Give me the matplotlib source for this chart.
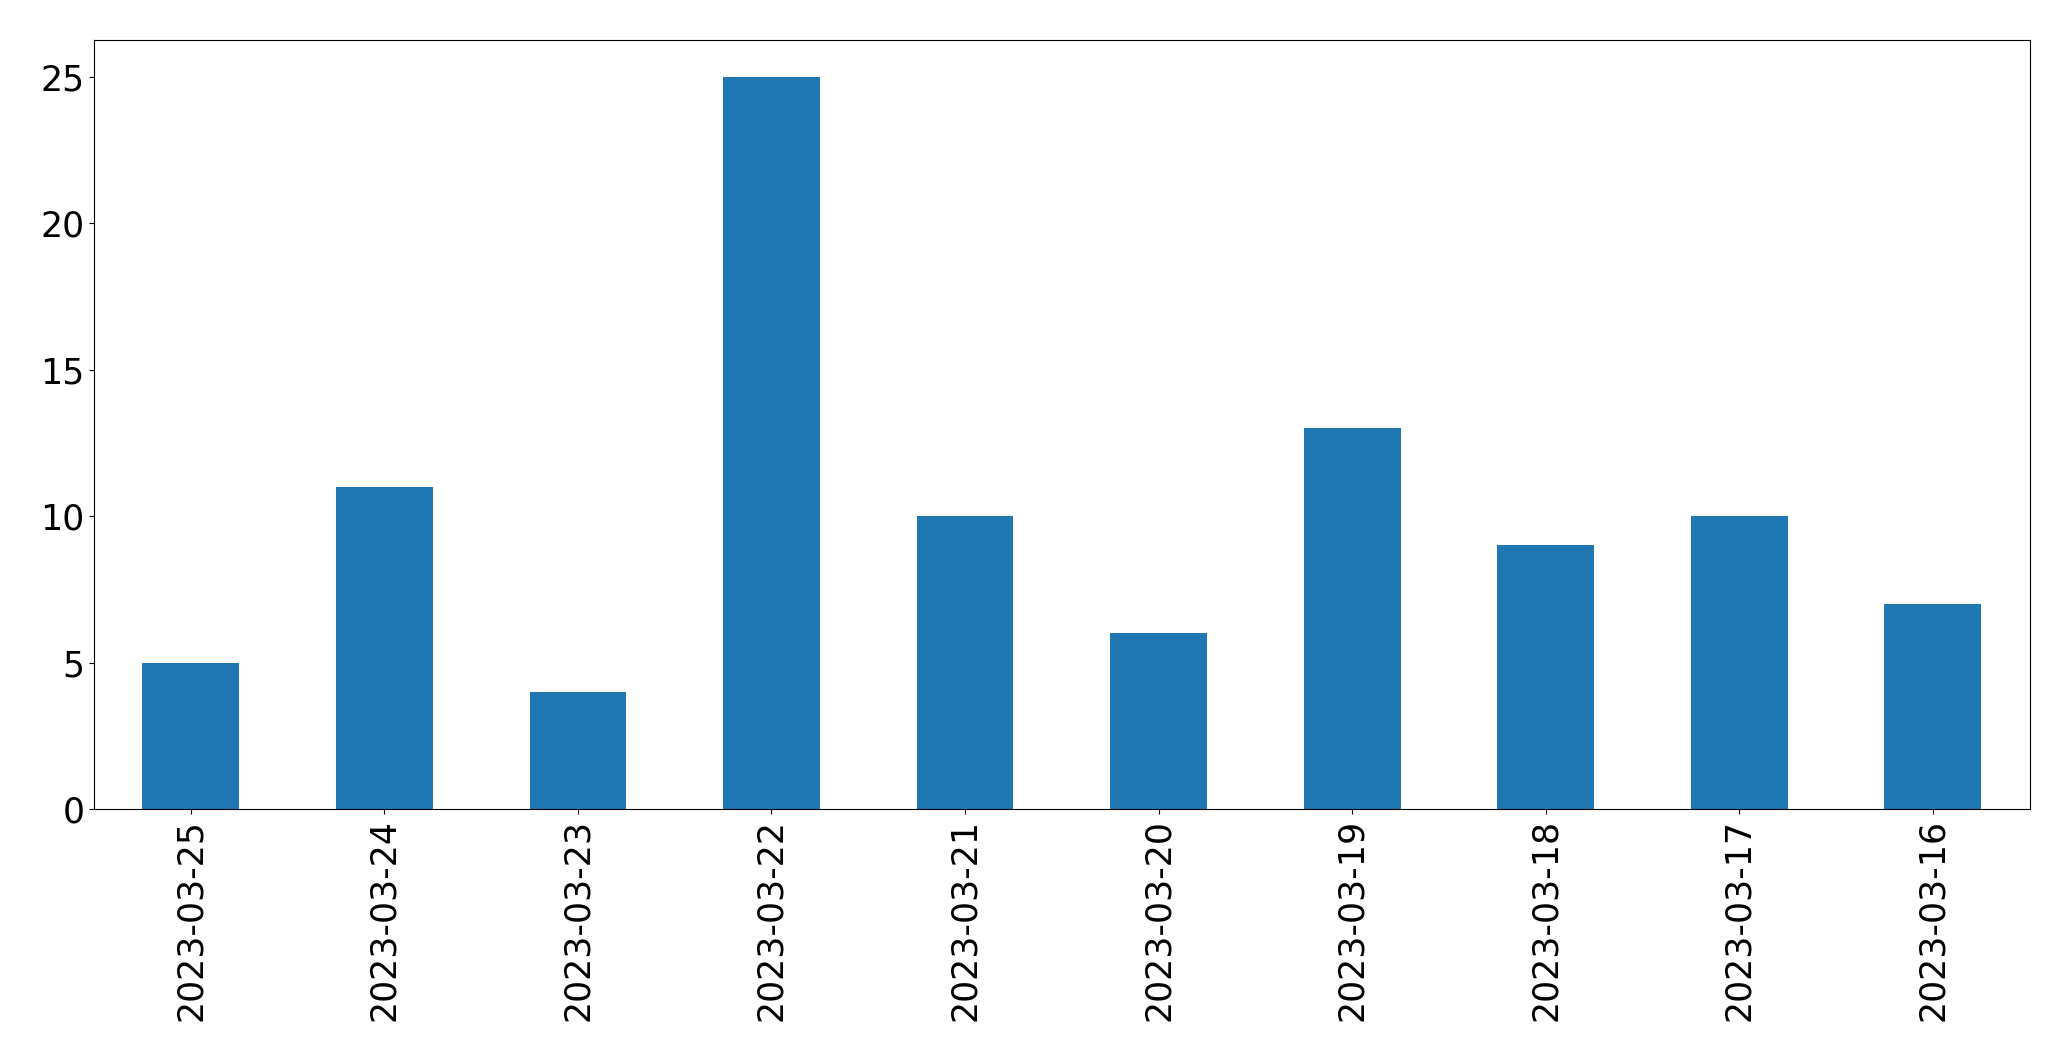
import matplotlib
matplotlib.use('Agg')
import matplotlib.pyplot as plt
import numpy as np

dates = ['2023-03-25', '2023-03-24', '2023-03-23', '2023-03-22', '2023-03-21',
         '2023-03-20', '2023-03-19', '2023-03-18', '2023-03-17', '2023-03-16']
counts = [5, 11, 4, 25, 10, 6, 13, 9, 10, 7]

plt.rc('font', size=25)

fig = plt.figure(figsize=(20.71, 10.61), dpi=100)
ax = fig.add_axes([0.0454, 0.2375, 0.9346, 0.7245])

x = np.arange(len(dates))
ax.bar(x, counts, width=0.5, color='#1f77b4')
ax.set_xticks(x)
ax.set_xticklabels(dates, rotation=90)
ax.set_xlim(-0.5, len(dates) - 0.5)
ax.set_ylim(0, 26.25)

fig.savefig('out.png', dpi=100)
